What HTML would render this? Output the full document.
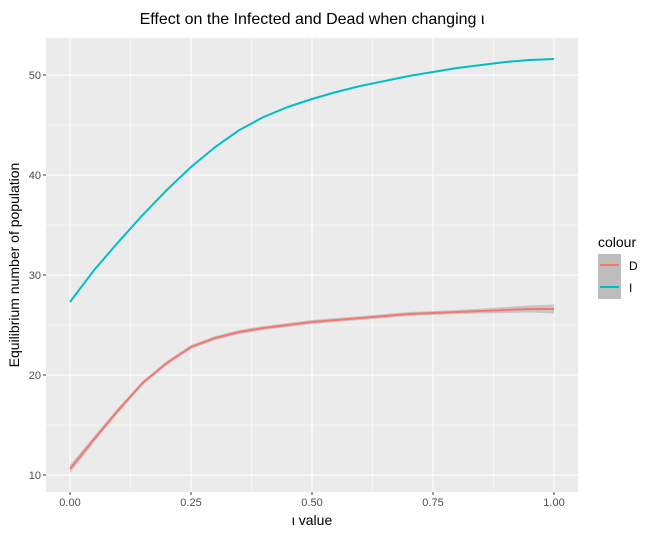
<!DOCTYPE html>
<html><head><meta charset="utf-8"><style>body{margin:0;background:#fff}svg{display:block}text{font-family:"Liberation Sans",sans-serif}</style></head>
<body>
<svg id="c" width="654" height="539"></svg>
<script>
const xs=[0,0.05,0.1,0.15,0.2,0.25,0.3,0.35,0.4,0.45,0.5,0.55,0.6,0.65,0.7,0.75,0.8,0.85,0.9,0.95,1.0];
const infected=[27.3,30.5,33.3,36,38.5,40.8,42.8,44.5,45.8,46.8,47.6,48.3,48.9,49.4,49.9,50.3,50.7,51,51.3,51.5,51.6];
const dead=[10.6,13.6,16.5,19.2,21.2,22.8,23.7,24.3,24.7,25,25.3,25.5,25.7,25.9,26.1,26.2,26.3,26.4,26.5,26.6,26.6];
const deadSe=[0.4,0.3,0.25,0.2,0.2,0.2,0.2,0.2,0.2,0.2,0.2,0.2,0.2,0.2,0.2,0.2,0.2,0.25,0.3,0.35,0.45];
const xTicks=[0,0.25,0.5,0.75,1.0];
const xTickLabels=["0.00","0.25","0.50","0.75","1.00"];
const yTicks=[10,20,30,40,50];

const svg=document.getElementById('c');const NS='http://www.w3.org/2000/svg';
const L=46,R=578,T=38,B=492;
const X=v=>70+v*484, Y=v=>475-(v-10)*10;
function el(t,a,p){const e=document.createElementNS(NS,t);for(const k in a)e.setAttribute(k,a[k]);(p||svg).appendChild(e);return e;}
const bg=el('rect',{x:L,y:T,width:R-L,height:B-T,fill:'#ebebeb'});


// minor grids
for(let i=0;i<xTicks.length-1;i++){const m=(xTicks[i]+xTicks[i+1])/2;el('line',{x1:X(m),x2:X(m),y1:T,y2:B,stroke:'#fff','stroke-width':0.5});}
for(let i=0;i<yTicks.length-1;i++){const m=(yTicks[i]+yTicks[i+1])/2;el('line',{x1:L,x2:R,y1:Y(m),y2:Y(m),stroke:'#fff','stroke-width':0.5});}
xTicks.forEach((v,i)=>{el('line',{x1:X(v),x2:X(v),y1:T,y2:B,stroke:'#fff','stroke-width':1.1});
el('line',{x1:X(v),x2:X(v),y1:B,y2:B+3,stroke:'#333'});
const t=el('text',{x:X(v),y:B+14,'text-anchor':'middle','font-size':11,fill:'#4d4d4d'});t.textContent=xTickLabels[i];

});
yTicks.forEach(v=>{el('line',{x1:L,x2:R,y1:Y(v),y2:Y(v),stroke:'#fff','stroke-width':1.1});
el('line',{x1:L-3,x2:L,y1:Y(v),y2:Y(v),stroke:'#333'});
const t=el('text',{x:L-5,y:Y(v)+4,'text-anchor':'end','font-size':11,fill:'#4d4d4d'});t.textContent=v;

});
// ribbon
let up=xs.map((x,i)=>X(x)+','+Y(dead[i]+deadSe[i])),dn=xs.map((x,i)=>X(x)+','+Y(dead[i]-deadSe[i])).reverse();
const rb=el('polygon',{points:up.concat(dn).join(' '),fill:'#999','fill-opacity':0.45});


const ld=el('polyline',{points:xs.map((x,i)=>X(x)+','+Y(dead[i])).join(' '),fill:'none',stroke:'#f8766d','stroke-width':2});


const li=el('polyline',{points:xs.map((x,i)=>X(x)+','+Y(infected[i])).join(' '),fill:'none',stroke:'#00bfc4','stroke-width':2});


</script>
<svg style="position:absolute;left:0;top:0" width="654" height="539">
<text x="312" y="24" text-anchor="middle" font-size="16" fill="#000">Effect on the Infected and Dead when changing ι</text>
<text x="312" y="525" text-anchor="middle" font-size="14" fill="#000">ι value</text>
<text transform="translate(19,265) rotate(-90)" text-anchor="middle" font-size="14" fill="#000">Equilibrium number of population</text>
<g>
<text x="598" y="247" font-size="14" fill="#000">colour</text>
<rect x="598" y="254" width="23" height="45" fill="#bdbdbd"/>
<line x1="600" x2="619" y1="265" y2="265" stroke="#f8766d" stroke-width="2"/>
<line x1="600" x2="619" y1="287" y2="287" stroke="#00bfc4" stroke-width="2"/>
<text x="629" y="270" font-size="12" fill="#000">D</text>
<text x="629" y="292" font-size="12" fill="#000">I</text>
</g>
</svg>
</body></html>
